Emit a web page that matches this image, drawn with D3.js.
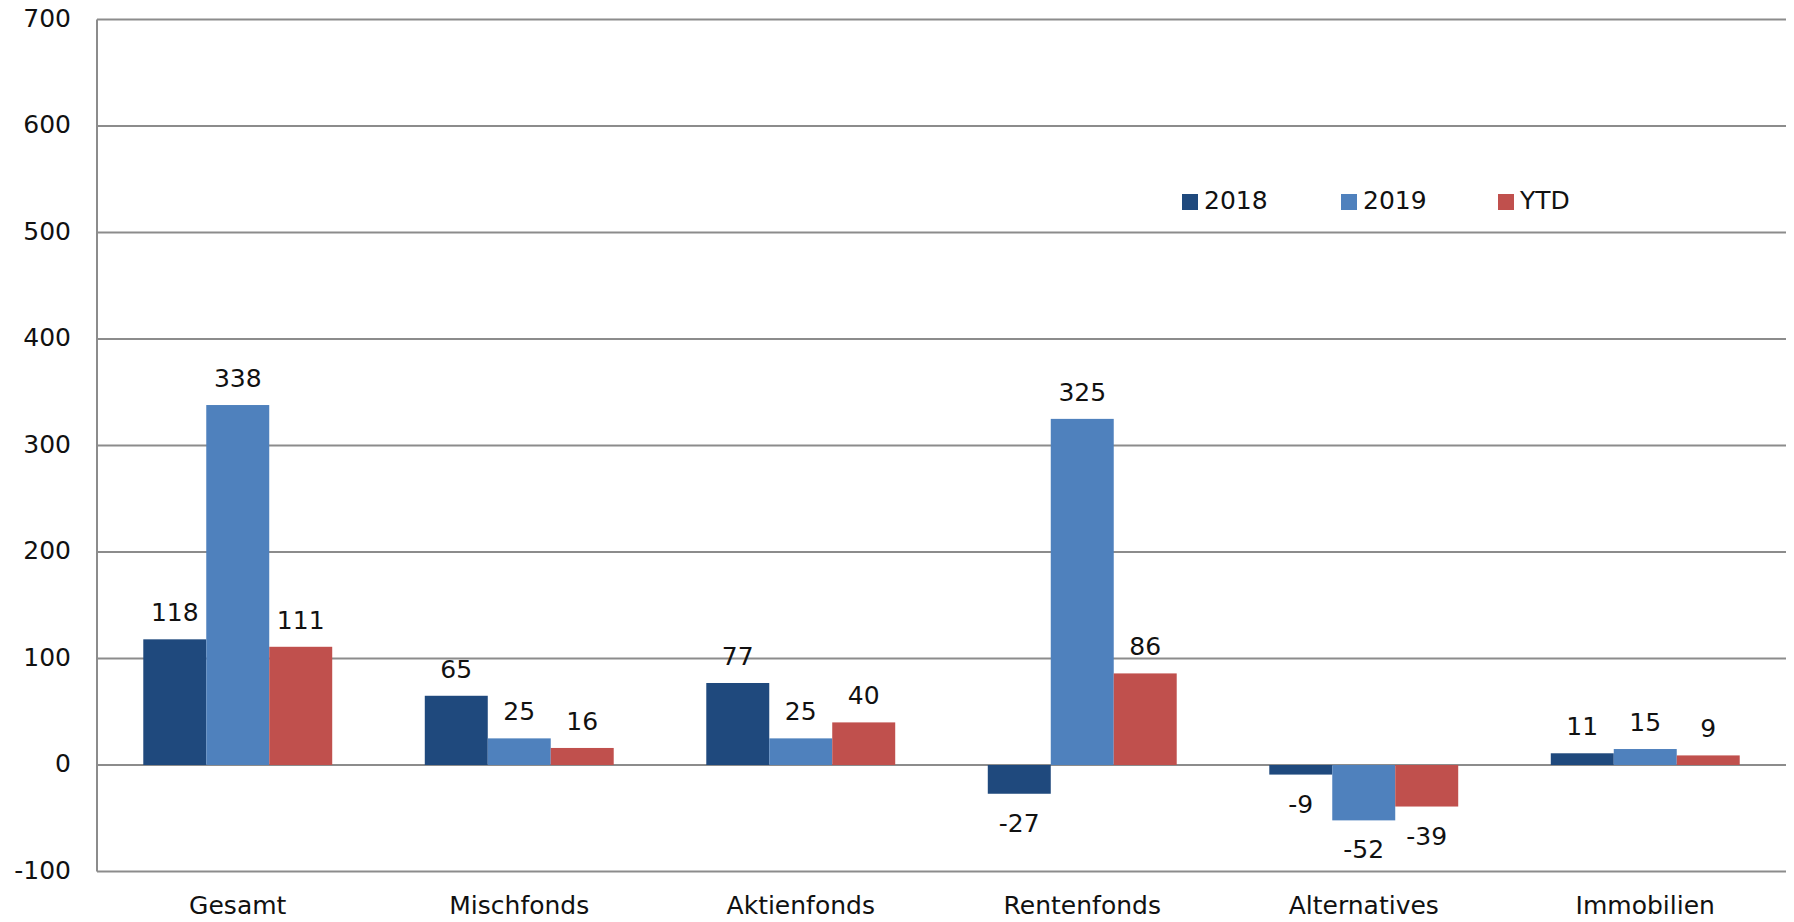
<!DOCTYPE html>
<html><head><meta charset="utf-8">
<script src="https://cdn.jsdelivr.net/npm/d3@7"></script>
<style>
html,body{margin:0;padding:0;background:#fff;}
text{font-family:"DejaVu Sans",Verdana,sans-serif;fill:#111;}
</style></head>
<body>
<svg id="chart" width="1794" height="922"></svg>
<script>
const categories = ["Gesamt","Mischfonds","Aktienfonds","Rentenfonds","Alternatives","Immobilien"];
const seriesNames = ["2018","2019","YTD"];
const values2018 = [118, 65, 77, -27, -9, 11];
const values2019 = [338, 25, 25, 325, -52, 15];
const valuesYTD = [111, 16, 40, 86, -39, 9];
const colors = ["#1F497D","#4F81BD","#C0504D"];
const yTicks = [-100,0,100,200,300,400,500,600,700];

(function(){
const series = [values2018, values2019, valuesYTD];
const svg = d3.select("#chart");
const mLeft = 97, mRight = 1786, mTop = 19.5, mBottom = 871.5;

const x = d3.scaleBand().domain(categories).range([mLeft, mRight]).padding(0);
const inner = d3.scaleBand().domain(seriesNames).range([0, x.bandwidth()]).paddingInner(0).paddingOuter(0.735);
const y = d3.scaleLinear().domain([-100, 700]).range([mBottom, mTop]);

// gridlines
svg.append("g").selectAll("line").data(yTicks).join("line")
  .attr("x1", mLeft).attr("x2", mRight)
  .attr("y1", d => y(d)).attr("y2", d => y(d))
  .attr("stroke", "#8c8c8c").attr("stroke-width", 2);

// y axis line
svg.append("line").attr("x1", mLeft).attr("x2", mLeft).attr("y1", y(700)).attr("y2", y(-100))
  .attr("stroke", "#8c8c8c").attr("stroke-width", 2);

// y tick labels
svg.append("g").selectAll("text").data(yTicks).join("text")
  .attr("x", 71).attr("y", d => y(d)).attr("text-anchor", "end")
  .attr("dominant-baseline", "middle").attr("font-size", 25)
  .text(d => d);

// bars
seriesNames.forEach((s, si) => {
  const g = svg.append("g");
  g.selectAll("rect").data(series[si]).join("rect")
    .attr("x", (d, i) => x(categories[i]) + inner(s))
    .attr("width", inner.bandwidth())
    .attr("y", d => y(Math.max(0, d)))
    .attr("height", d => Math.abs(y(d) - y(0)))
    .attr("fill", colors[si]);
  g.selectAll("text").data(series[si]).join("text")
    .attr("x", (d, i) => x(categories[i]) + inner(s) + inner.bandwidth() / 2)
    .attr("y", d => d >= 0 ? y(d) - 25 : y(d) + 31)
    .attr("text-anchor", "middle").attr("dominant-baseline", "middle")
    .attr("font-size", 25)
    .text(d => d);
});

// category labels
svg.append("g").selectAll("text").data(categories).join("text")
  .attr("x", d => x(d) + x.bandwidth() / 2).attr("y", 907)
  .attr("text-anchor", "middle").attr("dominant-baseline", "middle")
  .attr("font-size", 25).text(d => d);

// legend
const legendX = [1182, 1341, 1498];
const lg = svg.append("g");
seriesNames.forEach((s, i) => {
  lg.append("rect").attr("x", legendX[i]).attr("y", 194).attr("width", 16).attr("height", 16).attr("fill", colors[i]);
  lg.append("text").attr("x", legendX[i] + 22).attr("y", 202).attr("dominant-baseline", "middle")
    .attr("font-size", 25).text(s);
});
})();
</script>
</body></html>
